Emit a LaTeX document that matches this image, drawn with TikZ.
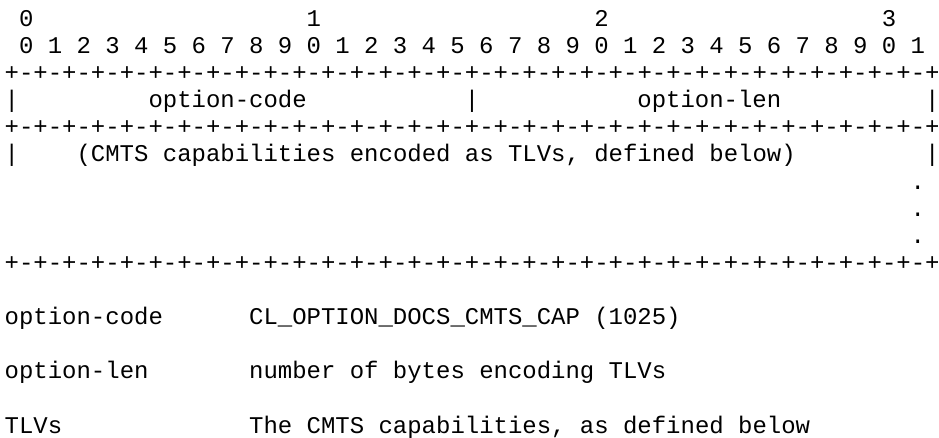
\documentclass[tikz,border=0pt]{standalone}
\usepackage{fontspec}
\newfontfamily\asciifont{Liberation Mono}
\newcommand{\borderline}{+-+-+-+-+-+-+-+-+-+-+-+-+-+-+-+-+-+-+-+-+-+-+-+-+-+-+-+-+-+-+-+-+}

\begin{document}
\begin{tikzpicture}[
    x=14.38pt, y=-27.1pt,
    every node/.style={font=\asciifont\fontsize{23.97pt}{27.1pt}\selectfont\frenchspacing},
    cell/.style={inner sep=0pt, anchor=base west},
]
\useasboundingbox (-4.5pt,26.5pt) rectangle (934.5pt,-411.5pt);

% --- bit ruler ---
\foreach \d in {0,...,3}
    \node[cell] (dec\d) at (1+20*\d,0) {\d};
\foreach \b in {0,...,31}{
    \pgfmathtruncatemacro{\u}{mod(\b,10)}
    \node[cell] (bit\b) at (1+2*\b,1) {\u};
}

% --- option header ---
\node[cell] (edgetop) at (0,2) {\borderline};
\node[cell] (barA) at (0,3) {|};
\node[cell] (codefield) at (10,3) {option-code};
\node[cell] (barB) at (32,3) {|};
\node[cell] (lenfield) at (44,3) {option-len};
\node[cell] (barC) at (64,3) {|};
\node[cell] (edgemid) at (0,4) {\borderline};

% --- TLV payload ---
\node[cell] (barD) at (0,5) {|};
\node[cell] (tlvfield) at (5,5) {(CMTS capabilities encoded as TLVs, defined below)};
\node[cell] (barE) at (64,5) {|};
\foreach \r in {6,7,8}
    \node[cell] (dot\r) at (63,\r) {.};
\node[cell] (edgelow) at (0,9) {\borderline};

% --- field descriptions ---
\node[cell] (codename) at (0,11) {option-code};
\node[cell] (codetext) at (17,11) {CL\_OPTION\_DOCS\_CMTS\_CAP (1025)};
\node[cell] (lenname) at (0,13) {option-len};
\node[cell] (lentext) at (17,13) {number of bytes encoding TLVs};
\node[cell] (tlvname) at (0,15) {TLVs};
\node[cell] (tlvtext) at (17,15) {The CMTS capabilities, as defined below};
\end{tikzpicture}
\end{document}
